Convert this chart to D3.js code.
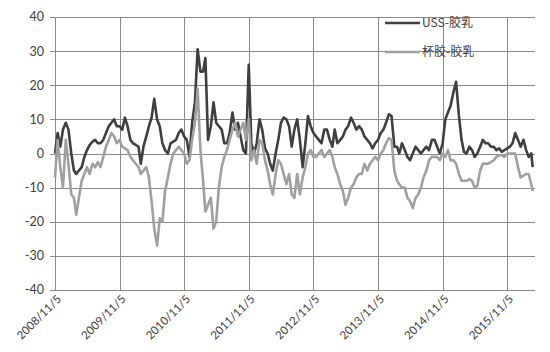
<!DOCTYPE html>
<html><head><meta charset="utf-8">
<script src="https://cdn.jsdelivr.net/npm/d3@7"></script>
<style>body{margin:0;background:#fff}svg{display:block}</style>
</head><body><svg id="c" width="550" height="352"></svg>
<script>
const dates = [
"2008-11-05","2008-11-20","2008-12-05","2008-12-20",
"2009-01-05","2009-01-20","2009-02-05","2009-02-20","2009-03-05","2009-03-20","2009-04-05","2009-04-20","2009-05-05","2009-05-20","2009-06-05","2009-06-20","2009-07-05","2009-07-20","2009-08-05","2009-08-20","2009-09-05","2009-09-20","2009-10-05","2009-10-20","2009-11-05","2009-11-20","2009-12-05","2009-12-20",
"2010-01-05","2010-01-20","2010-02-05","2010-02-20","2010-03-05","2010-03-20","2010-04-05","2010-04-20","2010-05-05","2010-05-20","2010-06-05","2010-06-20","2010-07-05","2010-07-20","2010-08-05","2010-08-20","2010-09-05","2010-09-20","2010-10-05","2010-10-20","2010-11-05","2010-11-20","2010-12-05","2010-12-20",
"2011-01-05","2011-01-20","2011-02-05","2011-02-20","2011-03-05","2011-03-20","2011-04-05","2011-04-20","2011-05-05","2011-05-20","2011-06-05","2011-06-20","2011-07-05","2011-07-20","2011-08-05","2011-08-20","2011-09-05","2011-09-20","2011-10-05","2011-10-20","2011-11-05","2011-11-20","2011-12-05","2011-12-20",
"2012-01-05","2012-01-20","2012-02-05","2012-02-20","2012-03-05","2012-03-20","2012-04-05","2012-04-20","2012-05-05","2012-05-20","2012-06-05","2012-06-20","2012-07-05","2012-07-20","2012-08-05","2012-08-20","2012-09-05","2012-09-20","2012-10-05","2012-10-20","2012-11-05","2012-11-20","2012-12-05","2012-12-20",
"2013-01-05","2013-01-20","2013-02-05","2013-02-20","2013-03-05","2013-03-20","2013-04-05","2013-04-20","2013-05-05","2013-05-20","2013-06-05","2013-06-20","2013-07-05","2013-07-20","2013-08-05","2013-08-20","2013-09-05","2013-09-20","2013-10-05","2013-10-20","2013-11-05","2013-11-20","2013-12-05","2013-12-20",
"2014-01-05","2014-01-20","2014-02-05","2014-02-20","2014-03-05","2014-03-20","2014-04-05","2014-04-20","2014-05-05","2014-05-20","2014-06-05","2014-06-20","2014-07-05","2014-07-20","2014-08-05","2014-08-20","2014-09-05","2014-09-20","2014-10-05","2014-10-20","2014-11-05","2014-11-20","2014-12-05","2014-12-20",
"2015-01-05","2015-01-20","2015-02-05","2015-02-20","2015-03-05","2015-03-20","2015-04-05","2015-04-20","2015-05-05","2015-05-20","2015-06-05","2015-06-20","2015-07-05","2015-07-20","2015-08-05","2015-08-20","2015-09-05","2015-09-20","2015-10-05","2015-10-20","2015-11-05","2015-11-20","2015-12-05","2015-12-20",
"2016-01-05","2016-01-20","2016-02-05","2016-02-20","2016-03-05","2016-03-20","2016-03-28"
];
const ussValues = [
0,6, 2,7, 9,7, 0,-5, -6,-5, -4,-1, 1,2.5, 3.5,4, 3,3, 4,6, 8,9, 10,8,
8,7, 10.5,8, 4,3, 2.5,2, -3,2, 5,8, 10.5,16, 10,8, 3,1, 0,3, 3.5,4, 6,7,
5,4, -1,9, 15,30.5, 24,24, 28,4, 8,15, 9,8, 7,3, 3,6, 12,7, 9,5, 1,0,
26,3, 0,3, 10,7, 1.5,0, -3,-5, 0,4, 9,10.5, 10,8, 2,7, 10,4, -4,3, 11,8,
6,5, 4,3, 7,7, 4,2, 7,3, 4,5, 7,8, 10.5,9, 7,8, 7,5, 4,3, 1.5,3,
4,6, 7,9, 11.5,11, 2,2, 0,3, 1,-1, -2,0, 2,1, 0,1, 2,1, 4,4, 2,0,
3,10, 12,14, 18,21, 11,4, 0.5,0, 2,1, -1,0, 2,4, 3,3, 2,2, 1,1.5, 0.5,1,
1.5,2, 3,6, 4,2, 4,1, -1,0, -4
];
const cupValues = [
-7,4, -4,-10, 4,-3, -12,-13, -18,-13, -8,-6, -4,-6, -3,-4, -2.5,-4, -1,2, 4,6, 5,3,
4,2, 1.5,1, -1,-2, -3,-4, -6,-5, -4,-7, -14,-22, -27,-19, -20,-11, -7,-3, 0,1, 2,1,
0,-3, -2,4, 9,19, 1,-8, -17,-15, -13,-22, -20,-10, -4,-1, 1,4, 7,9, 5,7, 9,4,
10,-2, 1,-3, 4,3, -2,-5, -9,-12, -6,-2, -3,-6, -9,-6, -12,-13, -6,-12, -7,-4, 0,1,
-1,-1, 0,1, -1,0, 1,-1, -4,-6, -9,-11, -15,-13, -10,-9, -7,-6, -6,-3, -5,-3, -2,-1,
-2,0, 1,3, 4.5,4, -5,-8, -9,-10, -10,-13, -14,-16, -13,-12, -10,-7, -5,-2, -1,-1, -1,-2,
0,-1, 1,-2, -2,-3, -6,-8, -8,-8, -7.5,-8, -10,-9.5, -5,-3, -3,-3, -2.5,-2, -1,-0.5, -0.5,-1,
0,0, 0,0, -4,-7, -6.5,-6, -6,-9, -11
];
const seriesNames = ["USS-胶乳", "杯胶-胶乳"];
const xTickLabels = ["2008/11/5","2009/11/5","2010/11/5","2011/11/5","2012/11/5","2013/11/5","2014/11/5","2015/11/5"];
const yTicks = [-40,-30,-20,-10,0,10,20,30,40];

(function () {
const parse = d3.timeParse("%Y-%m-%d");
const parseTick = d3.timeParse("%Y/%m/%d");
const svg = d3.select("#c");
const pl = 55, pr = 535, pt = 17, pb = 290;
const x = d3.scaleTime().domain([parse("2008-11-05"), parse("2016-04-10")]).range([pl, pr]);
const y = d3.scaleLinear().domain([-40, 40]).range([pb, pt]);
const gridColor = "#8a8a8a", textColor = "#404040";
const axisFont = "Lato, 'Liberation Sans', sans-serif";

svg.append("g").selectAll("line").data(yTicks).join("line")
  .attr("x1", pl - 5).attr("x2", pr)
  .attr("y1", d => Math.round(y(d)) + 0.5).attr("y2", d => Math.round(y(d)) + 0.5)
  .attr("stroke", gridColor).attr("stroke-width", 1);
const tickDates = xTickLabels.map(parseTick);
svg.append("g").selectAll("line").data(tickDates).join("line")
  .attr("x1", d => Math.round(x(d)) + 0.5).attr("x2", d => Math.round(x(d)) + 0.5)
  .attr("y1", pt).attr("y2", pb + 0.5)
  .attr("stroke", gridColor).attr("stroke-width", 1);

svg.append("g").selectAll("text").data(yTicks).join("text")
  .attr("x", 44).attr("y", d => y(d)).attr("dy", "0.35em")
  .attr("text-anchor", "end").attr("font-family", axisFont).attr("font-size", 12.5)
  .attr("fill", textColor).text(d => d);

svg.append("g").selectAll("text").data(tickDates).join("text")
  .attr("transform", d => `translate(${x(d) + 4},${pb + 7}) rotate(-45)`)
  .attr("text-anchor", "end").attr("font-family", axisFont).attr("font-size", 11.5)
  .attr("fill", textColor).attr("dy", "0.35em")
  .text((d, i) => xTickLabels[i]);

const series = [
  { name: seriesNames[0], values: ussValues, color: "#3f3f3f" },
  { name: seriesNames[1], values: cupValues, color: "#a0a0a0" }
];
const line = d3.line().x(d => x(d[0])).y(d => y(d[1]));
const parsedDates = dates.map(parse);
series.forEach(s => {
  svg.append("path")
    .datum(parsedDates.map((d, i) => [d, s.values[i]]))
    .attr("d", line).attr("fill", "none")
    .attr("stroke", s.color).attr("stroke-width", 2.6).attr("stroke-linejoin", "round");
});

const lg = svg.append("g");
series.forEach((s, i) => {
  const ly = 23 + i * 29;
  lg.append("line").attr("x1", 385).attr("x2", 420).attr("y1", ly).attr("y2", ly)
    .attr("stroke", s.color).attr("stroke-width", 2.4);
  lg.append("text").attr("x", 422).attr("y", ly).attr("dy", "0.35em")
    .attr("font-family", "'Noto Sans CJK SC', sans-serif").attr("font-size", 12)
    .attr("fill", textColor).text(s.name);
});
})();
</script></body></html>
